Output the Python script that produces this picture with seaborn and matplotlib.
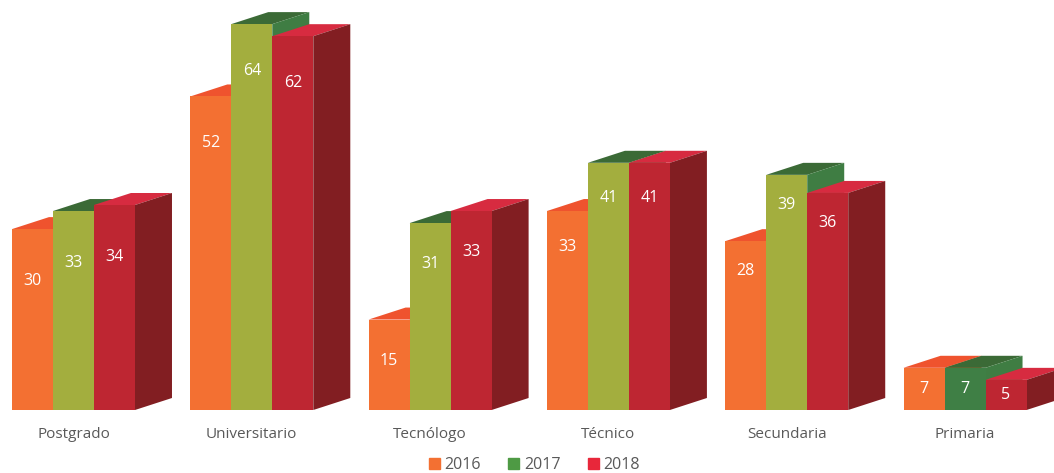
import matplotlib
matplotlib.use("Agg")
import matplotlib.pyplot as plt
import seaborn as sns
import pandas as pd
from matplotlib.patches import Polygon, Patch

# datos
categories = ["Postgrado", "Universitario", "Tecnólogo", "Técnico", "Secundaria", "Primaria"]
years = ["2016", "2017", "2018"]
v2016 = [30, 52, 15, 33, 28, 7]
v2017 = [33, 64, 31, 41, 39, 7]
v2018 = [34, 62, 33, 41, 36, 5]

df = pd.DataFrame({
    "Nivel": categories * 3,
    "Año": [y for y in years for _ in categories],
    "Valor": v2016 + v2017 + v2018,
})

front = {"2016": "#F37032", "2017": "#A3AE3E", "2018": "#BE2632"}
top = {"2016": "#EF532E", "2017": "#3B6A36", "2018": "#D72B40"}
side = {"2016": "#E0602C", "2017": "#3F7D43", "2018": "#821E22"}
legend_colors = {"2016": "#F37032", "2017": "#4E9A44", "2018": "#E8273A"}
primaria_2017 = "#3F7F45"

sns.set_theme(style="white")
plt.rcParams["font.family"] = ["Open Sans", "DejaVu Sans"]

fig = plt.figure(figsize=(10.54, 4.73), dpi=100)
ax = fig.add_axes([0, 63 / 473, 1, 410 / 473])
sns.barplot(data=df, x="Nivel", y="Valor", hue="Año", palette=front,
            width=0.69, gap=0, saturation=1, errorbar=None, legend=False, ax=ax)

ax.set_xlim(-0.412, 5.499)
ax.set_ylim(0, 68)
px = 410 / 68  # pixeles por unidad
dx = 37 / 178.3
dy = 12 / px

for k, (yr, cont) in enumerate(zip(years, ax.containers)):
    for i, bar in enumerate(cont):
        x0, w, h = bar.get_x(), bar.get_width(), bar.get_height()
        bar.set_zorder(2 * k + 2)
        bar.set_edgecolor("none")
        ax.add_patch(Polygon([(x0, h), (x0 + w, h), (x0 + w + dx, h + dy), (x0 + dx, h + dy)],
                             closed=True, facecolor=top[yr], edgecolor="none",
                             zorder=2 * k + 1, clip_on=False))
        ax.add_patch(Polygon([(x0 + w, 0), (x0 + w + dx, dy), (x0 + w + dx, h + dy), (x0 + w, h)],
                             closed=True, facecolor=side[yr], edgecolor="none",
                             zorder=2 * k + 1, clip_on=False))
        off = min((52 - 5.5 * i) / px, h / 2)
        ax.text(x0 + w / 2, h - off, str(int(h)), ha="center", va="center",
                color="white", fontsize=11.5, zorder=20)

ax.containers[1][5].set_facecolor(primaria_2017)

ax.set_xticks(range(len(categories)))
ax.set_xticklabels(categories, fontsize=11, color="#595959")
ax.tick_params(axis="x", length=0, pad=12)
ax.set_yticks([])
ax.set_xlabel("")
ax.set_ylabel("")
sns.despine(ax=ax, left=True, bottom=True)

handles = [Patch(color=legend_colors[y], label=y) for y in years]
fig.legend(handles=handles, loc="lower center", bbox_to_anchor=(0.507, -0.03), ncol=3,
           frameon=False, handlelength=0.7, handleheight=0.7, handletextpad=0.3,
           columnspacing=1.7, fontsize=11.5, labelcolor="#595959")

fig.savefig("out.png", dpi=100)
